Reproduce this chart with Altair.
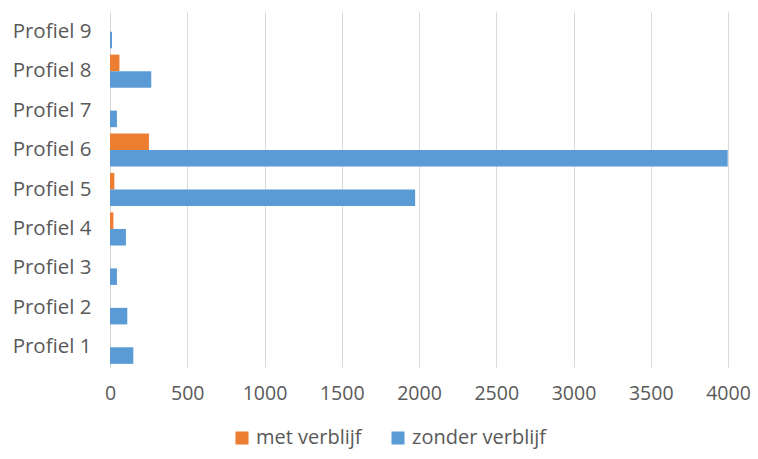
import altair as alt
import pandas as pd

profiles = ["Profiel 1", "Profiel 2", "Profiel 3", "Profiel 4", "Profiel 5",
            "Profiel 6", "Profiel 7", "Profiel 8", "Profiel 9"]
met_verblijf = [0, 0, 0, 22, 28, 252, 0, 61, 0]
zonder_verblijf = [151, 112, 45, 103, 1975, 3998, 45, 267, 13]
series = ["met verblijf", "zonder verblijf"]
colors = ["#ED7D31", "#5B9BD5"]
x_ticks = [0, 500, 1000, 1500, 2000, 2500, 3000, 3500, 4000]

rows = []
for p, m, z in zip(profiles, met_verblijf, zonder_verblijf):
    rows.append({"profiel": p, "serie": series[0], "waarde": m})
    rows.append({"profiel": p, "serie": series[1], "waarde": z})
df = pd.DataFrame(rows)

font = "Open Sans"
chart = alt.Chart(df).mark_bar().encode(
    y=alt.Y("profiel:N", sort=profiles[::-1],
            scale=alt.Scale(paddingInner=0.16, paddingOuter=0.08),
            axis=alt.Axis(title=None, labelFontSize=20.5, labelColor="#595959",
                          labelFont=font, ticks=False, domain=True,
                          domainColor="#d9d9d9", labelPadding=19)),
    yOffset=alt.YOffset("serie:N", sort=series, scale=alt.Scale(paddingInner=0, paddingOuter=0)),
    x=alt.X("waarde:Q", scale=alt.Scale(domain=[0, 4000], nice=False),
            axis=alt.Axis(title=None, values=x_ticks, format="d", labelFontSize=19.5,
                          labelColor="#595959", labelFont=font, ticks=False,
                          labelFlush=False, labelOverlap=False,
                          domain=False, grid=True, gridColor="#d9d9d9",
                          labelPadding=17)),
    color=alt.Color("serie:N", sort=series,
                    scale=alt.Scale(domain=series, range=colors),
                    legend=alt.Legend(title=None, orient="none", legendX=122, legendY=416,
                                      direction="horizontal", labelFontSize=20,
                                      labelColor="#595959", labelFont=font,
                                      symbolType="square", symbolSize=170,
                                      labelOffset=4, columnPadding=26)),
).properties(
    width=618, height=355,
    autosize=alt.AutoSizeParams(type="none"),
    padding={"left": 102, "top": 4, "right": 22, "bottom": 84},
).configure_view(stroke=None)

chart.save("out.html", embed_options={"renderer": "svg", "actions": False})
